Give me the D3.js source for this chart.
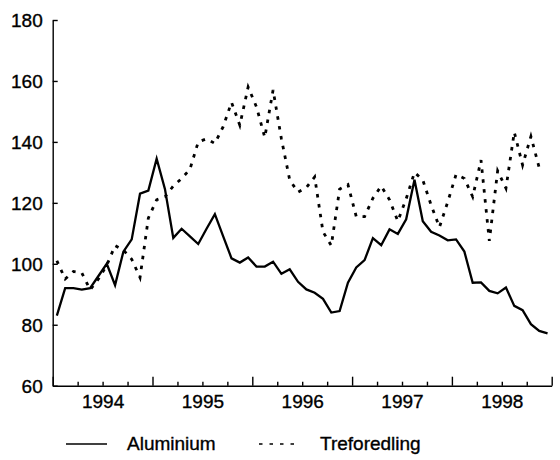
<!DOCTYPE html>
<html>
<head>
<meta charset="utf-8">
<script src="https://cdn.jsdelivr.net/npm/d3@7"></script>
<style>
  html, body { margin: 0; padding: 0; background: #fff; }
  svg { display: block; }
  text { font-family: "Liberation Sans", Arial, Helvetica, sans-serif; fill: #000; stroke: #000; stroke-width: 0.35px; }
</style>
</head>
<body>
<svg id="chart" width="560" height="460"></svg>
<script>
// Monthly index values, January 1994 – December 1998
const years = [1994, 1995, 1996, 1997, 1998];
const yTicks = [60, 80, 100, 120, 140, 160, 180];

const aluminium = [
  83, 92, 92, 91.5, 92, 96, 100, 93, 104, 108, 123, 124,
  134.5, 124.5, 108.5, 111.5, 109, 106.5, 111.5, 116.3, 109, 101.8, 100.4, 102.1,
  99.1, 99.1, 100.7, 96.7, 98.2, 94.1, 91.6, 90.5, 88.5, 84, 84.5, 93.8,
  98.8, 101.2, 108.4, 106.1, 111.3, 109.8, 114.6, 127.6, 114, 110.5, 109.3, 107.7,
  108, 104, 93.8, 93.9, 91.1, 90.3, 92.2, 86.2, 84.8, 80.2, 78, 77.2
];

const treforedling = [
  101, 95, 97.5, 97, 91.5, 95, 99.5, 106, 104.5, 101.5, 95.5, 115,
  121, 122, 125.5, 128, 131, 140, 141, 139.5, 145, 153, 145.5, 158,
  151.5, 141.5, 157, 141, 127.5, 123.5, 125, 128.5, 110.5, 106, 124.5, 126,
  115.5, 115.5, 121.5, 125.5, 121, 114, 121.3, 130, 127.5, 119.3, 112, 120.3,
  129.3, 128, 122, 134, 107.5, 130.5, 124.8, 143.2, 132.4, 141.8, 131.5, null
];

const seriesNames = ["Aluminium", "Treforedling"];

const svg = d3.select("#chart");
const x = d3.scaleLinear().domain([1994, 1999]).range([52.7, 551.7]);
const y = d3.scaleLinear().domain([60, 180]).range([385.7, 20]);

const monthPos = i => years[0] + (i + 0.5) / 12;

// y axis, ticks pointing into the plot
const yAxis = svg.append("g")
  .attr("transform", `translate(${x(1994)},0)`)
  .call(d3.axisLeft(y).tickValues(yTicks).tickSize(-5).tickPadding(10).tickSizeOuter(0));
yAxis.selectAll("text").style("font-size", "19px").attr("dy", "0.35em");

// x axis: quarterly minor ticks, yearly major ticks
const quarters = d3.range(0, 21).map(k => 1994 + k / 4).filter(v => !Number.isInteger(v));
const yearEdges = d3.range(1994, 2000);

const xMinor = svg.append("g")
  .attr("transform", `translate(0,${y(60)})`)
  .call(d3.axisBottom(x).tickValues(quarters).tickSize(-4).tickSizeOuter(0).tickFormat(""));
const xMajor = svg.append("g")
  .attr("transform", `translate(0,${y(60)})`)
  .call(d3.axisBottom(x).tickValues(yearEdges).tickSize(-9).tickSizeOuter(0).tickFormat(""));
xMajor.select(".domain").remove();

// year labels centred within each year
const xLabels = svg.append("g")
  .attr("transform", `translate(0,${y(60)})`)
  .call(d3.axisBottom(x).tickValues(years.map(v => v + 0.5)).tickSize(0).tickPadding(9)
    .tickFormat(v => String(Math.floor(v))));
xLabels.select(".domain").remove();
xLabels.selectAll("text").style("font-size", "19px");

svg.selectAll(".domain, .tick line").attr("stroke", "#000").attr("stroke-width", 1.4);

// series lines
const line = d3.line()
  .defined(d => d != null)
  .x((d, i) => x(monthPos(i)))
  .y(d => y(d));

svg.append("path")
  .datum(aluminium)
  .attr("fill", "none")
  .attr("stroke", "#000")
  .attr("stroke-width", 2.3)
  .attr("stroke-linejoin", "miter")
  .attr("d", line);

svg.append("path")
  .datum(treforedling)
  .attr("fill", "none")
  .attr("stroke", "#000")
  .attr("stroke-width", 2.8)
  .attr("stroke-dasharray", "3.5,6.5")
  .attr("d", line);

// legend
const legend = svg.append("g");
legend.append("line")
  .attr("x1", 66).attr("x2", 107).attr("y1", 444).attr("y2", 444)
  .attr("stroke", "#000").attr("stroke-width", 1.6);
legend.append("text").attr("x", 127).attr("y", 450)
  .style("font-size", "19px").text(seriesNames[0]);
legend.append("line")
  .attr("x1", 259).attr("x2", 297).attr("y1", 444).attr("y2", 444)
  .attr("stroke", "#000").attr("stroke-width", 1.6)
  .attr("stroke-dasharray", "3.5,7");
legend.append("text").attr("x", 320).attr("y", 450)
  .style("font-size", "19px").text(seriesNames[1]);
</script>
</body>
</html>
